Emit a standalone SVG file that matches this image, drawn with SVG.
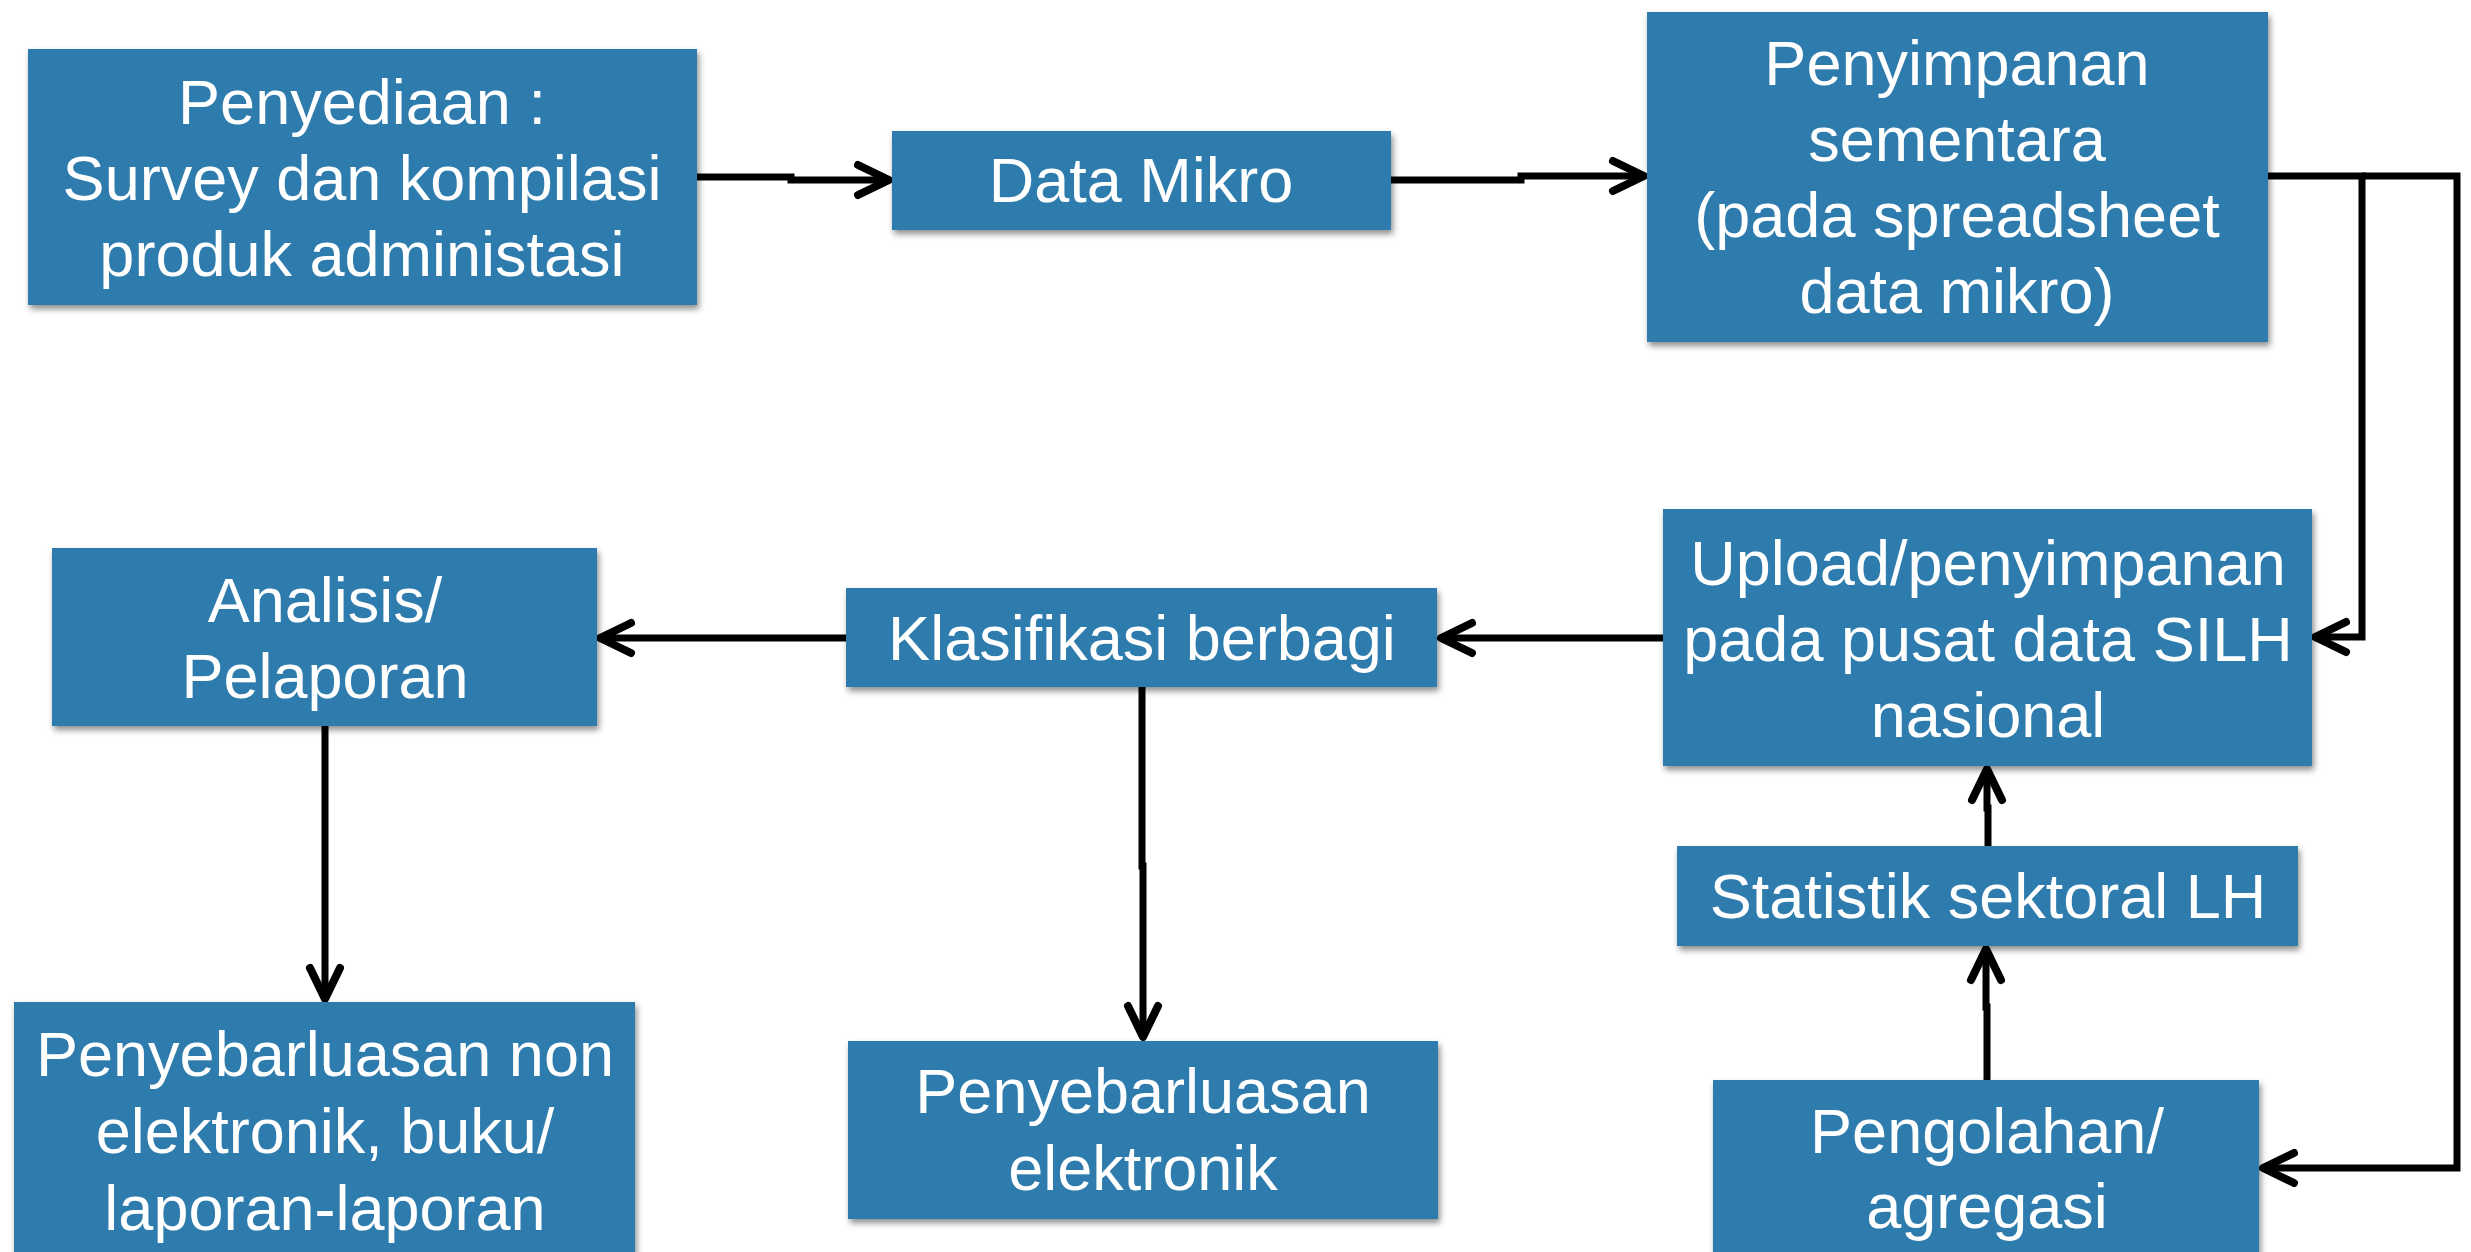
<svg xmlns="http://www.w3.org/2000/svg" width="2471" height="1252" viewBox="0 0 2471 1252">
  <style>
    .box { fill: #2e7bad; filter: url(#shadow); }
    .lbl { font-family: "Liberation Sans", Arial, Helvetica, sans-serif; font-size: 63px; fill: #ffffff; text-anchor: middle; }
    .conn { fill: none; stroke: #000000; stroke-width: 7; stroke-linejoin: miter; marker-end: url(#arrow); }
  </style>
  <defs>
    <filter id="shadow" x="-5%" y="-10%" width="115%" height="125%">
      <feDropShadow dx="2" dy="4" stdDeviation="3" flood-color="#000000" flood-opacity="0.45"/>
    </filter>
    <marker id="arrow" markerUnits="userSpaceOnUse" viewBox="-44 -22 52 44" refX="0" refY="0" markerWidth="52" markerHeight="44" orient="auto" overflow="visible">
      <path d="M-31,-15 L0,0 L-31,15" fill="none" stroke="#000000" stroke-width="8" stroke-linecap="round" stroke-linejoin="round"/>
    </marker>
  </defs>
  <rect width="2471" height="1252" fill="#ffffff"/>

  <g id="connectors">
    <path class="conn" d="M697,177 H791 V180 H889"/>
    <path class="conn" d="M1391,180 H1521 V176 H1644"/>
    <path class="conn" d="M2268,176 H2362 V637 H2315"/>
    <path class="conn" d="M2362,176 H2457 V1168 H2263"/>
    <path class="conn" d="M1663,638 H1441"/>
    <path class="conn" d="M846,638 H600"/>
    <path class="conn" d="M325,726 V999"/>
    <path class="conn" d="M1142,687 V866 H1143 V1037"/>
    <path class="conn" d="M1987,1080 V1007 H1986 V949"/>
    <path class="conn" d="M1988,846 V808 H1987 V769"/>
  </g>

  <g id="node-penyediaan">
    <rect class="box" x="28" y="49" width="669" height="256"/>
    <text class="lbl" x="362" y="124">Penyediaan :</text>
    <text class="lbl" x="362" y="200">Survey dan kompilasi</text>
    <text class="lbl" x="362" y="276">produk administasi</text>
  </g>

  <g id="node-data-mikro">
    <rect class="box" x="892" y="131" width="499" height="99"/>
    <text class="lbl" x="1141" y="202">Data Mikro</text>
  </g>

  <g id="node-penyimpanan">
    <rect class="box" x="1647" y="12" width="621" height="330"/>
    <text class="lbl" x="1957" y="85">Penyimpanan</text>
    <text class="lbl" x="1957" y="161">sementara</text>
    <text class="lbl" x="1957" y="237">(pada spreadsheet</text>
    <text class="lbl" x="1957" y="313">data mikro)</text>
  </g>

  <g id="node-upload">
    <rect class="box" x="1663" y="509" width="649" height="257"/>
    <text class="lbl" x="1988" y="585">Upload/penyimpanan</text>
    <text class="lbl" x="1988" y="661">pada pusat data SILH</text>
    <text class="lbl" x="1988" y="737">nasional</text>
  </g>

  <g id="node-statistik">
    <rect class="box" x="1677" y="846" width="621" height="100"/>
    <text class="lbl" x="1988" y="918">Statistik sektoral LH</text>
  </g>

  <g id="node-pengolahan">
    <rect class="box" x="1713" y="1080" width="546" height="190"/>
    <text class="lbl" x="1987" y="1153">Pengolahan/</text>
    <text class="lbl" x="1987" y="1228">agregasi</text>
  </g>

  <g id="node-klasifikasi">
    <rect class="box" x="846" y="588" width="591" height="99"/>
    <text class="lbl" x="1142" y="660">Klasifikasi berbagi</text>
  </g>

  <g id="node-analisis">
    <rect class="box" x="52" y="548" width="545" height="178"/>
    <text class="lbl" x="325" y="622">Analisis/</text>
    <text class="lbl" x="325" y="698">Pelaporan</text>
  </g>

  <g id="node-penyebarluasan-non">
    <rect class="box" x="14" y="1002" width="621" height="270"/>
    <text class="lbl" x="325" y="1076">Penyebarluasan non</text>
    <text class="lbl" x="325" y="1153">elektronik, buku/</text>
    <text class="lbl" x="325" y="1230">laporan-laporan</text>
  </g>

  <g id="node-penyebarluasan-elektronik">
    <rect class="box" x="848" y="1041" width="590" height="178"/>
    <text class="lbl" x="1143" y="1113">Penyebarluasan</text>
    <text class="lbl" x="1143" y="1190">elektronik</text>
  </g>
</svg>
